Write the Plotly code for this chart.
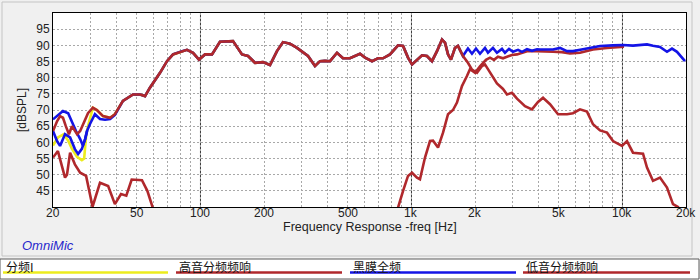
import math
import plotly.graph_objects as go

# ---------------- data (Hz, dB SPL) ----------------
# shared main response (woofer / crossover / full range overlap)
main_f = [30.9, 32.3, 34.5, 37.3, 39.3, 42.9, 47.9, 51.7, 54.6, 57.6, 64.3, 69.4, 74.1,
          81.8, 86.3, 92.2, 98.4, 105.1, 113.4, 123.7, 142.6, 157.3, 168.0, 181.3, 197.9,
          213.5, 230.4, 246.1, 265.6, 286.7, 306.1, 323.3, 348.9, 368.5, 389.3, 411.3,
          443.6, 473.6, 511.1, 570.2, 602.4, 650.1, 694.1, 733.1, 791.2, 863.4, 912.3,
          932.4, 962.7, 1006, 1062, 1122, 1184, 1251, 1321, 1395, 1442, 1490, 1539, 1608,
          1661, 1754]
main_db = [70.7, 70.0, 68.1, 67.6, 68.7, 72.8, 74.8, 74.8, 74.3, 76.9, 81.5, 85.1, 87.2,
           88.2, 88.6, 87.7, 85.6, 87.2, 87.2, 91.1, 91.3, 87.2, 86.7, 84.6, 84.8,
           83.9, 88.2, 91.0, 90.5, 89.2, 87.7, 86.7, 83.6, 85.1, 85.2, 85.1,
           87.7, 86.0, 86.0, 87.4, 86.2, 85.1, 86.0, 86.0, 87.2, 90.0, 89.8,
           88.2, 86.2, 84.1, 85.6, 86.9, 86.7, 85.1, 88.2, 91.8, 90.8, 87.2, 85.6, 89.2,
           89.8, 86.7]

# 分频I (yellow)
xo_low_f = [20.0, 21.1, 22.5, 23.6, 24.6, 26.0, 27.4, 28.1, 28.7, 29.3]
xo_low_db = [59.0, 61.5, 62.5, 60.5, 58.0, 55.5, 54.5, 55.0, 62.0, 65.0]

# 高音分频频响 (tweeter)
tw_low_f = [20.0, 21.1, 22.8, 23.3, 24.1, 25.4, 26.9, 28.7, 30.8, 33.4, 36.5, 39.3,
            42.0, 44.5, 47.2, 52.8, 56.0, 58.9, 62.0]
tw_low_db = [55.3, 57.3, 49.1, 50.0, 56.8, 53.2, 50.6, 49.6, 40.1, 47.5, 46.5, 40.9,
             44.0, 43.5, 48.5, 48.3, 45.0, 40.3, 36.0]
tw_high_f = [840, 863.4, 912.3, 962.7, 1006, 1062, 1097, 1159, 1224, 1265, 1336, 1411,
             1490, 1573, 1643, 1735, 1832, 1893, 2000, 2112, 2254, 2356, 2460, 2570,
             2715, 2836, 2994, 3163, 3341, 3527, 3935, 4294, 4686, 5169, 5640, 6290,
             7249, 8446, 9733, 10166]
tw_high_db = [36.0, 39.8, 45.0, 49.6, 50.6, 49.1, 48.6, 55.3, 60.4, 60.5, 58.4, 63.0,
              68.7, 70.0, 72.3, 77.4, 80.5, 82.6, 81.5, 83.5, 85.5, 86.2, 85.5, 86.5,
              86.0, 86.5, 87.0, 87.2, 87.8, 88.2, 88.2, 88.2, 88.0, 87.9, 87.5, 87.7,
              88.7, 89.2, 89.4, 89.6]

# 黑膜全频 (full range, blue)
fr_low_f = [20.0, 21.1, 22.3, 23.6, 24.1, 24.9, 25.7, 26.9, 27.7, 28.4, 29.0, 29.9,
            31.6, 33.4, 35.3, 37.3, 39.3]
fr_low_db = [67.1, 68.5, 69.7, 69.0, 67.6, 65.6, 63.5, 61.0, 59.0, 61.0, 63.5, 65.6,
             68.7, 67.2, 67.0, 67.2, 68.5]
fr_alt_f = [20.0, 20.9, 21.6, 22.8, 24.1, 25.4, 26.3, 27.4, 28.4, 29.0]
fr_alt_db = [63.5, 60.4, 58.9, 62.5, 61.5, 57.9, 56.4, 58.0, 61.0, 63.5]
fr_high_f = [1852, 1935, 2022, 2112, 2230, 2304, 2433, 2541, 2685, 2774, 2898, 3027,
             3198, 3341, 3527, 3725, 3935, 4067, 4686, 5057, 5458, 5827, 6499, 7249,
             7825, 9016, 10055, 11215, 13068, 13950, 15060, 16255, 17164, 18130, 19780]
fr_high_db = [89.0, 87.4, 89.0, 87.4, 89.2, 87.7, 89.2, 87.7, 88.9, 87.7, 88.9, 88.0,
              88.6, 88.0, 88.8, 88.3, 88.8, 88.7, 88.7, 89.2, 88.2, 88.2, 88.8, 89.3,
              89.8, 90.0, 90.1, 89.9, 90.3, 89.9, 89.5, 88.0, 89.0, 88.0, 85.1]

# 低音分频频响 (woofer)
wf_low_f = [20.0, 20.9, 21.6, 22.3, 23.0, 23.8, 24.6, 25.4, 26.0, 26.9, 27.7, 29.3]
wf_low_db = [63.5, 66.5, 68.1, 67.6, 65.0, 62.5, 65.0, 63.5, 62.5, 63.5, 65.6, 69.0]
wf_high_f = [1852, 1935, 2044, 2159, 2230, 2356, 2541, 2715, 2836, 2994, 3163, 3451,
             3725, 3979, 4202, 4535, 4949, 5458, 5827, 6290, 6789, 7249, 7825, 8446,
             9016, 9949, 10504, 11215, 12511, 13068, 13950, 15060, 16255, 17354, 18330,
             19140]
wf_high_db = [84.6, 82.5, 81.5, 83.6, 84.1, 81.5, 78.2, 76.5, 74.8, 75.3, 73.5, 71.2,
              70.2, 72.5, 73.8, 71.8, 68.7, 68.7, 69.0, 70.2, 69.5, 65.6, 63.7, 63.0,
              60.4, 58.9, 60.4, 56.8, 56.5, 52.2, 48.1, 49.1, 46.0, 40.9, 40.0, 38.0]

x_tickvals = [20, 50, 100, 200, 500, 1000, 2000, 5000, 10000, 20000]
x_ticktext = ["20", "50", "100", "200", "500", "1k", "2k", "5k", "10k", "20k"]
x_minor = [30, 40, 60, 70, 80, 90, 300, 400, 600, 700, 800, 900,
           3000, 4000, 6000, 7000, 8000, 9000]
x_major_lines = [100, 1000, 10000]
y_tickvals = [45, 50, 55, 60, 65, 70, 75, 80, 85, 90, 95]
x_lo, x_hi = 20, 20000

legend_names = ["分频I", "高音分频频响", "黑膜全频", "低音分频频响"]

YELLOW = "#ecec1e"
RED = "#b0282c"
BLUE = "#1414e6"
legend_colors = [YELLOW, RED, BLUE, RED]

# ---------------- figure ----------------
W, H = 700, 280
L, R, T, B = 53, 14, 13, 73
PW, PH = W - L - R, H - T - B
LX0, LX1 = math.log10(x_lo), math.log10(x_hi)


def px(x):
    return (x - L) / PW


def py(y):
    return (H - B - y) / PH


fig = go.Figure()
LW = 2.6

main_blue_idx = [i for i, f in enumerate(main_f) if f >= 42]

fig.add_trace(go.Scatter(x=xo_low_f + main_f, y=xo_low_db + main_db, mode="lines",
                         line=dict(color=YELLOW, width=LW), name=legend_names[0],
                         showlegend=False))
fig.add_trace(go.Scatter(x=tw_low_f + [None] + tw_high_f, y=tw_low_db + [None] + tw_high_db,
                         mode="lines", line=dict(color=RED, width=LW), name=legend_names[1],
                         showlegend=False, connectgaps=False))
fig.add_trace(go.Scatter(x=fr_alt_f, y=fr_alt_db, mode="lines",
                         line=dict(color=BLUE, width=LW), showlegend=False))
fig.add_trace(go.Scatter(x=fr_low_f + [main_f[i] for i in main_blue_idx] + fr_high_f,
                         y=fr_low_db + [main_db[i] for i in main_blue_idx] + fr_high_db,
                         mode="lines", line=dict(color=BLUE, width=LW), name=legend_names[2],
                         showlegend=False))
fig.add_trace(go.Scatter(x=wf_low_f + main_f + wf_high_f, y=wf_low_db + main_db + wf_high_db,
                         mode="lines", line=dict(color=RED, width=LW), name=legend_names[3],
                         showlegend=False))

shapes = []
# outer frame
shapes.append(dict(type="rect", xref="paper", yref="paper", x0=px(2), x1=px(692),
                   y0=py(256), y1=py(2), line=dict(color="#c4c4c4", width=1),
                   fillcolor="rgba(0,0,0,0)", layer="below"))
# solid decade lines
for v in x_major_lines:
    shapes.append(dict(type="line", xref="x", yref="paper", x0=v, x1=v, y0=0, y1=1,
                       line=dict(color="#3a3a3a", width=1), layer="below"))
# legend box
shapes.append(dict(type="rect", xref="paper", yref="paper", x0=px(0), x1=px(699),
                   y0=py(279), y1=py(259), line=dict(color="#5a5a5a", width=1),
                   fillcolor="white"))
leg_x = [(3, 168), (176, 342), (350, 516), (523, 690)]
for (a, b), c in zip(leg_x, legend_colors):
    shapes.append(dict(type="line", xref="paper", yref="paper", x0=px(a), x1=px(b),
                       y0=py(272.5), y1=py(272.5), line=dict(color=c, width=2.5)))

annotations = []
# x tick labels placed in paper units from the log scale
for v, t in zip(x_tickvals, x_ticktext):
    annotations.append(dict(xref="paper", yref="paper",
                            x=(math.log10(v) - LX0) / (LX1 - LX0), y=py(213),
                            text=t, showarrow=False, xanchor="center", yanchor="middle",
                            font=dict(family="Liberation Sans", size=12, color="#222")))
for (a, b), name in zip(leg_x, legend_names):
    annotations.append(dict(xref="paper", yref="paper", x=px(a + 1), y=py(266),
                            text=name, showarrow=False, xanchor="left", yanchor="middle",
                            font=dict(family="Noto Sans CJK SC", size=12, color="#111")))
annotations.append(dict(xref="paper", yref="paper", x=0.5, y=py(227),
                        text="Frequency Response -freq [Hz]", showarrow=False,
                        xanchor="center", yanchor="middle",
                        font=dict(family="Liberation Sans", size=12.5, color="#222")))
annotations.append(dict(xref="paper", yref="paper", x=px(22), y=py(110),
                        text="[dBSPL]", showarrow=False, textangle=-90,
                        xanchor="center", yanchor="middle",
                        font=dict(family="Liberation Sans", size=12, color="#222")))
annotations.append(dict(xref="paper", yref="paper", x=px(20), y=py(245),
                        text="<i>OmniMic</i>", showarrow=False,
                        xanchor="left", yanchor="middle",
                        font=dict(family="Liberation Sans", size=13, color="#2828cc")))

grid_kw = dict(gridcolor="#a8a8a8", gridwidth=1, griddash="2px,2px")

fig.update_layout(
    width=W, height=H,
    margin=dict(l=L, r=R, t=T, b=B),
    paper_bgcolor="#f0f0f0",
    plot_bgcolor="white",
    showlegend=False,
    shapes=shapes,
    annotations=annotations,
    xaxis=dict(type="log", range=[LX0, LX1], tickvals=x_tickvals,
               ticktext=x_ticktext, showticklabels=False, showgrid=True, **grid_kw,
               minor=dict(tickvals=x_minor, showgrid=True, ticks="", **grid_kw),
               showline=True, mirror=True, linecolor="#000", linewidth=1,
               ticks="", zeroline=False),
    yaxis=dict(range=[40, 100], tickvals=y_tickvals, showgrid=True, **grid_kw,
               showline=True, mirror=True, linecolor="#000", linewidth=1,
               ticks="", zeroline=False,
               tickfont=dict(family="Liberation Sans", size=12, color="#222")),
)

fig.write_html("out.html")
